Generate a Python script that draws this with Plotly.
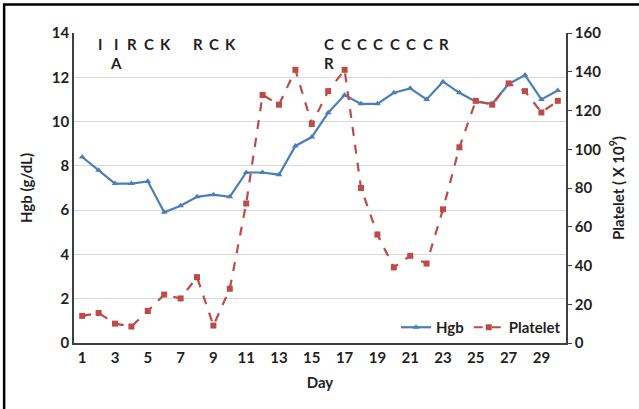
import plotly.graph_objects as go

days = list(range(1, 31))
hgb = [8.4, 7.8, 7.2, 7.2, 7.3, 5.9, 6.2, 6.6, 6.7, 6.6,
       7.7, 7.7, 7.6, 8.9, 9.3, 10.4, 11.2, 10.8, 10.8, 11.3,
       11.5, 11.0, 11.8, 11.3, 10.9, 10.8, 11.7, 12.1, 11.0, 11.4]
platelet = [14, 15.5, 10, 8.5, 16.5, 25, 23, 34, 9, 28,
            72, 128, 123, 141, 113, 130, 141, 80, 56, 39,
            45, 41, 69, 101, 125, 123, 134, 130, 119, 125]

top_labels_days = [2, 3, 4, 5, 6, 8, 9, 10, 16, 17, 18, 19, 20, 21, 22, 23]
top_labels_text = ["I", "I", "R", "C", "K", "R", "C", "K", "C", "C", "C", "C", "C", "C", "C", "R"]
second_labels_days = [3, 16]
second_labels_text = ["A", "R"]

x_tick_vals = list(range(1, 31, 2))
y_left_ticks = list(range(0, 15, 2))
y_right_ticks = list(range(0, 161, 20))

FONT = "Lato"
FS = 15
TXT = "#1f1f1f"
blue = "#4A7EBB"
red = "#BE4B48"

fig = go.Figure()
fig.add_trace(go.Scatter(
    x=days, y=hgb, name="Hgb", mode="lines+markers",
    line=dict(color=blue, width=2.2),
    marker=dict(symbol="triangle-up", size=6, color=blue),
    yaxis="y"))
fig.add_trace(go.Scatter(
    x=days, y=platelet, name="Platelet", mode="lines+markers",
    line=dict(color=red, width=2.2, dash="dash"),
    marker=dict(symbol="square", size=6, color=red),
    yaxis="y2"))

annotations = []
for d, t in zip(top_labels_days, top_labels_text):
    annotations.append(dict(x=d, y=13.5, xref="x", yref="y", text=t, showarrow=False,
                            xshift=1, font=dict(family=FONT, size=FS, color=TXT, weight="bold")))
for d, t in zip(second_labels_days, second_labels_text):
    annotations.append(dict(x=d, y=12.65, xref="x", yref="y", text=t, showarrow=False,
                            xshift=1, font=dict(family=FONT, size=FS, color=TXT, weight="bold")))

fig.update_layout(
    width=639, height=409,
    margin=dict(l=74, r=73, t=33, b=66, autoexpand=False),
    paper_bgcolor="white", plot_bgcolor="white",
    font=dict(family=FONT, size=FS, color=TXT, weight="bold"),
    showlegend=True,
    legend=dict(orientation="h", x=1.0, xanchor="right", y=0.05, yanchor="middle",
                bgcolor="rgba(0,0,0,0)", font=dict(family=FONT, size=FS, weight="bold"),
                itemwidth=30, tracegroupgap=0),
    xaxis=dict(range=[0.5, 30.5], tickvals=x_tick_vals, showgrid=False,
               showline=True, linecolor="#404040", linewidth=1.5, ticks="",
               tickfont=dict(size=FS, weight="bold"),
               title=dict(text="Day", font=dict(size=FS, weight="bold"), standoff=13),
               zeroline=False, automargin=False),
    yaxis=dict(range=[0, 14], tickvals=y_left_ticks, showgrid=True, gridcolor="#D9D9D9",
               gridwidth=1, showline=True, linecolor="#404040", linewidth=1.5, ticks="",
               tickfont=dict(size=FS, weight="bold"),
               title=dict(text="Hgb (g/dL)", font=dict(size=FS, weight="bold"), standoff=16),
               zeroline=False, automargin=False),
    yaxis2=dict(range=[0, 160], tickvals=y_right_ticks, overlaying="y", side="right",
                showgrid=False, showline=True, linecolor="#404040", linewidth=1.5,
                ticks="outside", ticklen=4, tickcolor="#404040",
                tickfont=dict(size=FS, weight="bold"),
                title=dict(text="Platelet ( X 10<sup>9</sup>)", font=dict(size=FS, weight="bold"), standoff=13),
                zeroline=False, automargin=False),
    annotations=annotations,
    shapes=[dict(type="rect", xref="paper", yref="paper",
                 x0=-0.142, x1=1.2, y0=-0.3, y1=1.092,
                 line=dict(color="black", width=2.5), fillcolor="rgba(0,0,0,0)", layer="below")],
)

fig.write_html("out.html", config={"displayModeBar": False},
               post_script="document.body.style.margin='0';document.body.style.padding='0';")
